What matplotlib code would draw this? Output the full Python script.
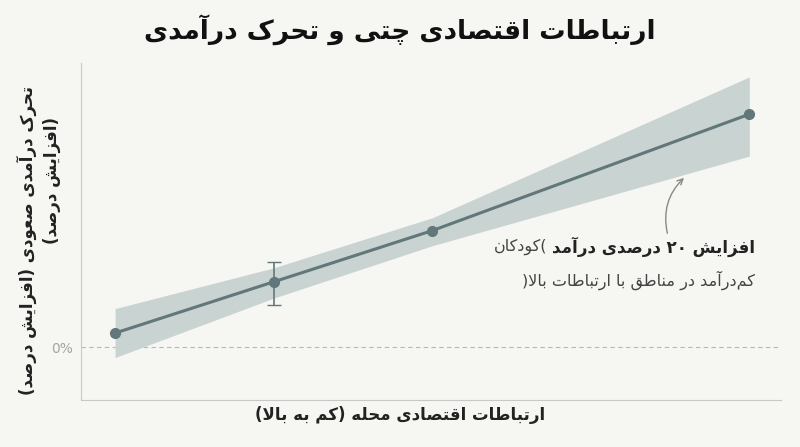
import matplotlib
matplotlib.use("Agg")
import matplotlib.pyplot as plt

# ── Data ──────────────────────────────────────────────────────────
x_pos   = [1, 2, 3, 5]
y_vals  = [1.2, 5.6, 10.0, 20.0]
band_lo = [-0.9, 4.2, 8.7, 16.4]
band_hi = [3.3, 6.8, 11.1, 23.2]
err_x   = 2
err_lo, err_hi = 3.6, 7.3

TITLE  = "ارتباطات اقتصادی چتی و تحرک درآمدی"
XLABEL = "ارتباطات اقتصادی محله (کم به بالا)"
YLABEL = ["تحرک درآمدی صعودی (افزایش درصد)", "(افزایش درصد)"]
NOTE_B = "افزایش ۲۰ درصدی درآمد"
NOTE_R1 = "(کودکان"
NOTE_R2 = "کم\u200cدرآمد در مناطق با ارتباطات بالا)"

LINE = "#62777a"
BAND = "#c9d3d1"
BG   = "#f6f6f3"

# ── minimal Persian shaping (isolated, final, initial, medial) ────
FORMS = {
    "ا": (0xFE8D, 0xFE8E), "آ": (0xFE81, 0xFE82), "د": (0xFEA9, 0xFEAA),
    "ر": (0xFEAD, 0xFEAE), "ز": (0xFEAF, 0xFEB0), "و": (0xFEED, 0xFEEE),
    "ب": (0xFE8F, 0xFE90, 0xFE91, 0xFE92), "ت": (0xFE95, 0xFE96, 0xFE97, 0xFE98),
    "ج": (0xFE9D, 0xFE9E, 0xFE9F, 0xFEA0), "چ": (0xFB7A, 0xFB7B, 0xFB7C, 0xFB7D),
    "ح": (0xFEA1, 0xFEA2, 0xFEA3, 0xFEA4), "ش": (0xFEB5, 0xFEB6, 0xFEB7, 0xFEB8),
    "ص": (0xFEB9, 0xFEBA, 0xFEBB, 0xFEBC), "ط": (0xFEC1, 0xFEC2, 0xFEC3, 0xFEC4),
    "ع": (0xFEC9, 0xFECA, 0xFECB, 0xFECC), "ف": (0xFED1, 0xFED2, 0xFED3, 0xFED4),
    "ق": (0xFED5, 0xFED6, 0xFED7, 0xFED8), "ک": (0xFB8E, 0xFB8F, 0xFB90, 0xFB91),
    "ل": (0xFEDD, 0xFEDE, 0xFEDF, 0xFEE0), "م": (0xFEE1, 0xFEE2, 0xFEE3, 0xFEE4),
    "ن": (0xFEE5, 0xFEE6, 0xFEE7, 0xFEE8), "ه": (0xFEE9, 0xFEEA, 0xFEEB, 0xFEEC),
    "ی": (0xFBFC, 0xFBFD, 0xFBFE, 0xFBFF),
}
MIRROR = {"(": ")", ")": "("}


def shape(text, mirror=True):
    chars = list(text)
    out = []
    i = 0
    while i < len(chars):
        c = chars[i]
        prev = chars[i - 1] if i > 0 else ""
        joins_prev = prev in FORMS and len(FORMS[prev]) == 4
        if c not in FORMS:
            if c != "\u200c":
                out.append(MIRROR.get(c, c) if mirror else c)
            i += 1
            continue
        # lam-alef ligature
        if c == "ل" and i + 1 < len(chars) and chars[i + 1] == "ا":
            out.append(chr(0xFEFC if joins_prev else 0xFEFB))
            i += 2
            continue
        nxt = chars[i + 1] if i + 1 < len(chars) else ""
        f = FORMS[c]
        joins_next = len(f) == 4 and nxt in FORMS
        if joins_prev and joins_next:
            out.append(chr(f[3]))
        elif joins_prev:
            out.append(chr(f[1]))
        elif joins_next:
            out.append(chr(f[2]))
        else:
            out.append(chr(f[0]))
        i += 1
    # visual order: reverse, keeping digit runs left-to-right
    vis = out[::-1]
    res, run = [], []
    for ch in vis:
        if ch.isdigit():
            run.append(ch)
        else:
            res.extend(run[::-1]); run = []
            res.append(ch)
    res.extend(run[::-1])
    return "".join(res)


plt.rcParams["font.family"] = ["DejaVu Sans"]

fig = plt.figure(figsize=(8, 4.47), dpi=100, facecolor=BG)
ax = fig.add_axes([81 / 800, 1 - 400 / 447, 700 / 800, 337 / 447], facecolor=BG)

ax.fill_between(x_pos, band_lo, band_hi, color=BAND, lw=0, zorder=1)
ax.axhline(0, color="#b8b8b8", lw=0.8, ls=(0, (4, 3)), zorder=0)
ax.plot(x_pos, y_vals, color=LINE, lw=2.2, marker="o", ms=7, zorder=3)
ax.errorbar([err_x], [y_vals[1]], yerr=[[y_vals[1] - err_lo], [err_hi - y_vals[1]]],
            fmt="none", ecolor=LINE, elinewidth=1.2, capsize=5, zorder=2)

ax.set_xlim(0.785, 5.2)
ax.set_ylim(-4.55, 24.4)
ax.set_xticks([])
ax.set_yticks([0])
ax.set_yticklabels(["0%"], color="#a5a5a5", fontsize=10)
ax.tick_params(axis="y", length=0, pad=6)
for s in ["top", "right"]:
    ax.spines[s].set_visible(False)
for s in ["left", "bottom"]:
    ax.spines[s].set_color("#c8c8c8")

fig.text(0.5, 1 - 30 / 447, shape(TITLE), ha="center", va="center",
         fontsize=19, fontweight="bold", color="#111111")
fig.text(0.5, 1 - 415 / 447, shape(XLABEL), ha="center", va="center",
         fontsize=12, fontweight="bold", color="#222222")
fig.text(27 / 800, 1 - 240 / 447, shape(YLABEL[0]), ha="center", va="center",
         rotation=90, fontsize=12, fontweight="bold", color="#222222")
fig.text(52 / 800, 1 - 180 / 447, shape(YLABEL[1]), ha="center", va="center",
         rotation=90, fontsize=12, fontweight="bold", color="#222222")

# annotation: bold part on the right, regular part after it (to the left)
xr = 755 / 800
tb = fig.text(xr, 1 - 247 / 447, shape(NOTE_B), ha="right", va="center",
              fontsize=12, fontweight="bold", color="#222222")
fig.canvas.draw()
bb = tb.get_window_extent().transformed(fig.transFigure.inverted())
fig.text(bb.x0 - 0.006, 1 - 247 / 447, shape(NOTE_R1, mirror=False), ha="right",
         va="center", fontsize=11.5, color="#444444")
fig.text(xr, 1 - 280 / 447, shape(NOTE_R2, mirror=False), ha="right", va="center",
         fontsize=11.5, color="#444444")

ax.annotate("", xy=(686 / 800, 1 - 176 / 447), xytext=(668 / 800, 1 - 236 / 447),
            xycoords="figure fraction", textcoords="figure fraction",
            arrowprops=dict(arrowstyle="->", color="#888888", lw=1,
                            connectionstyle="arc3,rad=-0.3"))

fig.savefig("out.png", dpi=100, facecolor=BG)
